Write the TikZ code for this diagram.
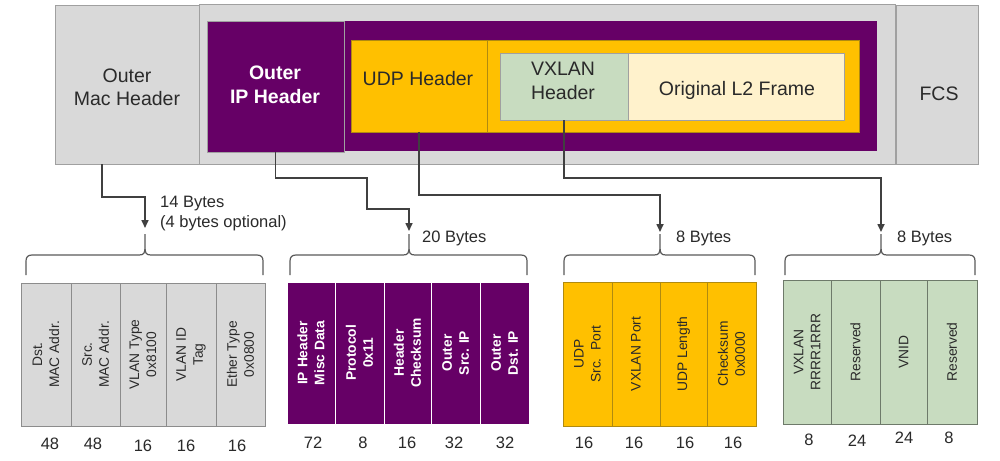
\documentclass[tikz,border=0pt]{standalone}
\usepackage{fontspec}
\setmainfont{Liberation Sans}
\usetikzlibrary{arrows.meta}
\definecolor{gbox}{HTML}{D9D9D9}
\definecolor{gline}{HTML}{A0A0A0}
\definecolor{gline2}{HTML}{8C8C8C}
\definecolor{purp}{HTML}{660066}
\definecolor{yel}{HTML}{FFC000}
\definecolor{yline}{HTML}{B08A10}
\definecolor{grn}{HTML}{C8DCC0}
\definecolor{grnline}{HTML}{6E7A6A}
\definecolor{cream}{HTML}{FFF2CC}
\definecolor{connc}{HTML}{404040}
\definecolor{bracec}{HTML}{5A5A5A}
\definecolor{txt}{HTML}{2A2A2A}
\newcommand{\vbrace}[3]{%
  \draw[bracestyle] (#1,275) -- (#1,261) .. controls (#1,257) and (#1+2,255) .. (#1+6,255)
    -- (#3-6,255) .. controls (#3-1,255) and (#3,253) .. (#3,247) -- (#3,234)
    -- (#3,247) .. controls (#3,253) and (#3+1,255) .. (#3+6,255)
    -- (#2-6,255) .. controls (#2-2,255) and (#2,257) .. (#2,261) -- (#2,275);}
\begin{document}
\begin{tikzpicture}[x=1pt,y=-1pt,
  box/.style={inner sep=0pt, outer sep=0pt, anchor=north west},
  toptxt/.style={inner sep=0pt, align=center, text=txt, font=\fontsize{19.5}{23.5}\selectfont},
  conn/.style={draw=connc, line width=1.6pt, -{Triangle[width=7pt,length=8pt]}},
  bracestyle/.style={draw=bracec, line width=1.2pt},
  btxt/.style={inner sep=0pt, align=left, text=txt, font=\fontsize{16.5}{20}\selectfont},
  numtxt/.style={inner sep=0pt, anchor=base, text=txt, font=\fontsize{16.5}{20}\selectfont},
  fld/.style={rotate=90, inner sep=0pt, outer sep=0pt, align=center, text=txt, line width=0.8pt,
    font=\fontsize{13.8}{17}\selectfont},
  fgray/.style={fld, fill=gbox, draw=gline2},
  fpurp/.style={fld, fill=purp, draw=white, text=white, font=\fontsize{13.8}{17}\selectfont\bfseries},
  fyel/.style={fld, fill=yel, draw=yline},
  fgrn/.style={fld, fill=grn, draw=grnline}
]
\useasboundingbox (0,0) rectangle (1000,460);
\fill[white] (0,0) rectangle (1000,460);

% top frame
\node[box, fill=gbox, draw=gline, line width=0.8pt, minimum width=696, minimum height=160] (frame) at (199,4) {};
\node[box, fill=gbox, draw=gline, line width=0.8pt, minimum width=144, minimum height=159] (mac) at (55,5) {};
\node[box, fill=gbox, draw=gline, line width=0.8pt, minimum width=82, minimum height=159] (fcs) at (896,5) {};
\node[box, fill=purp, minimum width=670, minimum height=130] (outerip) at (207,21) {};
\node[box, fill=purp, draw=gline, line width=0.5pt, minimum width=137, minimum height=131] (ip) at (207,21) {};
\node[box, fill=yel, draw=yline, line width=0.6pt, minimum width=508, minimum height=92] (udpreg) at (351,40) {};
\node[box, draw=yline, line width=0.6pt, minimum width=136, minimum height=92] (udp) at (351,40) {};
\node[box, fill=grn, draw=gline, line width=0.6pt, minimum width=128, minimum height=67] (vx) at (500,53) {};
\node[box, fill=cream, draw=gline, line width=0.6pt, minimum width=216, minimum height=67] (l2) at (628,53) {};

\node[toptxt] (mactxt) at (127,87.5) {Outer\\Mac Header};
\node[toptxt, text=white, font=\fontsize{19.5}{24}\selectfont\bfseries] (iptxt) at (275,84.5) {Outer\\IP Header};
\node[toptxt] (udptxt) at (418,79) {UDP Header};
\node[toptxt] (vxtxt) at (563,81) {VXLAN\\Header};
\node[toptxt, anchor=base] (l2txt) at (737,95) {Original L2 Frame};
\node[toptxt, anchor=base] (fcstxt) at (939,100) {FCS};

% arrow end points
\coordinate (t1) at (145,228);
\coordinate (t2) at (409,231);
\coordinate (t3) at (660,232);
\coordinate (t4) at (881,232);

\draw[conn] ([xshift=-25pt]mac.south) -- ++(0,33) -| (t1);
\draw[conn] (ip.south) -- ++(0,26) -- ++(91.5,0) -- ++(0,31) -| (t2);
\draw[conn] (udp.south) -- ++(0,63) -| (t3);
\draw[conn] (vx.south) -- ++(0,58) -| (t4);

% braces
\vbrace{26}{263}{145}
\vbrace{290}{527}{409}
\vbrace{564}{755}{660}
\vbrace{785}{975}{881}

\node[btxt, anchor=base west] (b1a) at (160,207) {14 Bytes};
\node[btxt, anchor=base west] (b1b) at (160,227) {(4 bytes optional)};
\node[btxt, anchor=base west] (b2) at (422,242) {20 Bytes};
\node[btxt, anchor=base west] (b3) at (676,242) {8 Bytes};
\node[btxt, anchor=base west] (b4) at (897,242) {8 Bytes};

% group 1
\node[fgray, minimum width=143, minimum height=50] (g1a) at (46,354.5) {Dst.\\MAC Addr.};
\node[fgray, minimum width=143, minimum height=49] (g1b) at (95.5,354.5) {Src.\\MAC Addr.};
\node[fgray, minimum width=143, minimum height=46] (g1c) at (143,354.5) {VLAN Type\\0x8100};
\node[fgray, minimum width=143, minimum height=50] (g1d) at (191,354.5) {VLAN ID\\Tag};
\node[fgray, minimum width=143, minimum height=49] (g1e) at (240.5,354.5) {Ether Type\\0x0800};
% group 2
\node[fpurp, minimum width=142, minimum height=48] (g2a) at (311,353) {IP Header\\Misc Data};
\node[fpurp, minimum width=142, minimum height=49] (g2b) at (359.5,353) {Protocol\\0x11};
\node[fpurp, minimum width=142, minimum height=47] (g2c) at (407.5,353) {Header\\Checksum};
\node[fpurp, minimum width=142, minimum height=49] (g2d) at (455.5,353) {Outer\\Src. IP};
\node[fpurp, minimum width=142, minimum height=49] (g2e) at (504.5,353) {Outer\\Dst. IP};
% group 3
\node[fyel, minimum width=144, minimum height=49] (g3a) at (587.5,354) {UDP\\Src.~~Port};
\node[fyel, minimum width=144, minimum height=48] (g3b) at (636,354) {VXLAN Port};
\node[fyel, minimum width=144, minimum height=47] (g3c) at (683.5,354) {UDP Length};
\node[fyel, minimum width=144, minimum height=49] (g3d) at (731.5,354) {Checksum\\0x0000};
% group 4
\node[fgrn, minimum width=144, minimum height=48] (g4a) at (807,352) {VXLAN\\RRRR1RRR};
\node[fgrn, minimum width=144, minimum height=49] (g4b) at (855.5,352) {Reserved};
\node[fgrn, minimum width=144, minimum height=47] (g4c) at (903.5,352) {VNID};
\node[fgrn, minimum width=144, minimum height=50] (g4d) at (952,352) {Reserved};

% numbers
\node[numtxt] (n1a) at (50,449) {48};
\node[numtxt] (n1b) at (93,449) {48};
\node[numtxt] (n1c) at (143,451) {16};
\node[numtxt] (n1d) at (186,451) {16};
\node[numtxt] (n1e) at (237,451) {16};
\node[numtxt] (n2a) at (313,448) {72};
\node[numtxt] (n2b) at (363,448) {8};
\node[numtxt] (n2c) at (407,448) {16};
\node[numtxt] (n2d) at (454,448) {32};
\node[numtxt] (n2e) at (505,448) {32};
\node[numtxt] (n3a) at (584,448) {16};
\node[numtxt] (n3b) at (634,448) {16};
\node[numtxt] (n3c) at (685,448) {16};
\node[numtxt] (n3d) at (733,448) {16};
\node[numtxt] (n4a) at (809,445) {8};
\node[numtxt] (n4b) at (857,446) {24};
\node[numtxt] (n4c) at (904,443) {24};
\node[numtxt] (n4d) at (949,443) {8};
\end{tikzpicture}
\end{document}
